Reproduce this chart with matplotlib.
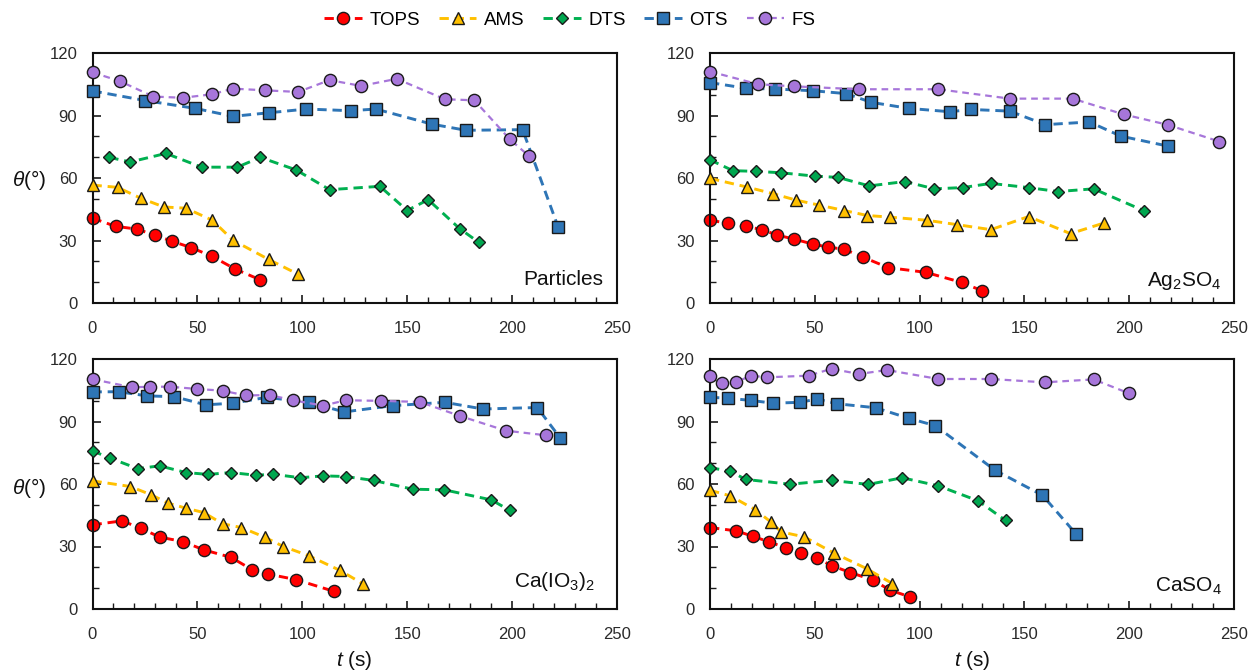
import matplotlib
matplotlib.use("Agg")
import matplotlib.pyplot as plt
from matplotlib.ticker import MultipleLocator
from matplotlib.lines import Line2D

plt.rcParams['font.family'] = ['Liberation Sans', 'DejaVu Sans']
plt.rcParams['mathtext.fontset'] = 'custom'
plt.rcParams['mathtext.rm'] = 'Liberation Sans'
plt.rcParams['mathtext.it'] = 'Liberation Sans:italic'

# ---------------- data ----------------
series_names = ["TOPS", "AMS", "DTS", "OTS", "FS"]
panel_titles = ["Particles", "Ag$_2$SO$_4$", "Ca(IO$_3$)$_2$", "CaSO$_4$"]
x_ticks = [0, 50, 100, 150, 200, 250]
y_ticks = [0, 30, 60, 90, 120]

# Particles
p1_tops_t = [0, 11, 21, 30, 38, 47, 57, 68, 80]
p1_tops_y = [40.7, 36.8, 35.5, 32.5, 29.6, 26.6, 22.4, 16.3, 11.1]
p1_ams_t = [0, 12, 23, 34, 44.5, 57, 67, 84, 98]
p1_ams_y = [56.6, 55.5, 50.3, 46.1, 45.5, 39.8, 30.1, 20.9, 13.8]
p1_dts_t = [8, 18, 35, 52, 69, 80, 97, 113, 137, 150, 160, 175, 184]
p1_dts_y = [69.9, 67.7, 71.8, 65.2, 65.2, 69.9, 63.9, 54.4, 56.0, 44.4, 49.6, 35.7, 29.2]
p1_ots_t = [0, 25, 49, 67, 84, 102, 123, 135, 162, 178, 205, 222]
p1_ots_y = [101.8, 97.2, 93.4, 89.6, 91.3, 93.1, 92.3, 93.1, 85.8, 82.9, 83.2, 36.3]
p1_fs_t = [0, 13, 29, 43, 57, 67, 82, 98, 113, 128, 145, 168, 182, 199, 208]
p1_fs_y = [110.7, 106.5, 99.1, 98.5, 100.2, 102.9, 102.1, 101.3, 107.0, 104.2, 107.6, 97.8, 97.3, 78.5, 70.6]

# Ag2SO4
p2_tops_t = [0, 8.6, 17, 25, 32, 40, 49, 56.5, 64, 73, 85, 103, 120, 130]
p2_tops_y = [39.7, 38.3, 36.8, 35.2, 32.6, 30.7, 28.3, 26.8, 25.8, 22.0, 17.0, 14.7, 9.9, 5.8]
p2_ams_t = [0, 17.5, 30, 41, 52, 64, 75, 86, 103.5, 118, 134, 152, 172, 188]
p2_ams_y = [59.8, 55.7, 52.5, 49.4, 47.0, 44.4, 42.0, 41.2, 39.7, 37.6, 35.2, 41.5, 33.3, 38.4]
p2_dts_t = [0, 11, 22, 34, 50, 61, 76, 93, 107, 120.5, 134, 152, 166, 183, 207]
p2_dts_y = [68.7, 63.5, 63.2, 62.5, 60.9, 60.3, 56.2, 58.3, 54.8, 55.4, 57.4, 55.4, 53.5, 54.8, 44.3]
p2_ots_t = [0, 17, 31, 49, 65, 77, 95, 114.5, 124.5, 143, 160, 181, 196, 218.5]
p2_ots_y = [105.8, 103.1, 102.7, 101.9, 100.5, 96.3, 93.4, 91.8, 92.9, 92.1, 85.6, 86.9, 80.1, 75.3]
p2_fs_t = [0, 23, 40, 71, 109, 143, 173, 197.5, 218.5, 243]
p2_fs_y = [111.1, 105.0, 104.0, 102.6, 102.6, 98.1, 98.1, 90.5, 85.5, 77.5]

# Ca(IO3)2
p3_tops_t = [0, 14, 23, 32, 43, 53, 66, 76, 83.5, 97, 115]
p3_tops_y = [40.4, 42.3, 38.8, 34.5, 32.4, 28.4, 24.8, 18.9, 16.8, 14.1, 8.5]
p3_ams_t = [0, 18, 28, 36, 44.5, 53, 62, 71, 82, 91, 103, 118, 129]
p3_ams_y = [61.5, 58.8, 54.8, 50.8, 48.4, 46.3, 40.9, 39.1, 34.5, 30.0, 25.6, 18.5, 12.0]
p3_dts_t = [0, 8.4, 21.5, 32, 44.6, 55, 66, 78, 86, 99, 110, 120.6, 134, 152.6, 167.7, 190, 199]
p3_dts_y = [75.9, 72.4, 67.4, 68.7, 65.5, 64.6, 65.5, 64.2, 64.7, 63.0, 63.9, 63.6, 61.7, 57.5, 57.2, 52.4, 47.3]
p3_ots_t = [0, 12.4, 26, 39, 54, 67, 83, 103, 120, 143, 168, 186, 212, 223]
p3_ots_y = [104.2, 104.3, 102.3, 101.9, 98.0, 98.8, 101.6, 99.2, 94.6, 97.6, 99.2, 96.0, 96.7, 82.0]
p3_fs_t = [0, 19, 27.5, 37, 50, 62, 73, 84.5, 95.5, 110, 120.6, 137.6, 156, 175, 197, 216]
p3_fs_y = [110.3, 106.4, 106.7, 106.7, 105.6, 104.8, 102.5, 102.7, 100.2, 97.6, 100.2, 99.9, 99.4, 92.7, 85.6, 83.4]

# CaSO4
p4_tops_t = [0, 12.6, 20.4, 28.3, 36.3, 43.5, 51, 58, 67, 78, 85.7, 95.5]
p4_tops_y = [39.1, 37.5, 34.9, 32.2, 29.3, 27.1, 24.4, 20.8, 17.5, 13.8, 9.1, 5.8]
p4_ams_t = [0, 9.7, 21.5, 29, 34, 45, 59, 74.7, 87]
p4_ams_y = [57.0, 54.3, 47.7, 41.8, 37.0, 34.6, 26.9, 19.4, 12.2]
p4_dts_t = [0, 9.6, 17, 38, 58, 75.6, 91.7, 109, 128, 141]
p4_dts_y = [67.8, 66.2, 62.2, 59.9, 61.7, 59.8, 63.0, 59.1, 51.9, 42.5]
p4_ots_t = [0, 8.4, 19.7, 30, 43, 51, 60.7, 79, 95, 107.5, 136, 158.6, 174.5]
p4_ots_y = [101.6, 101.2, 100.1, 98.8, 99.2, 100.8, 98.5, 96.6, 91.5, 88.0, 66.6, 54.6, 36.2]
p4_fs_t = [0, 5.6, 12.4, 19.6, 27, 47, 58, 71, 84.4, 109, 134, 159.6, 183, 200]
p4_fs_y = [111.8, 108.6, 108.9, 112.0, 111.2, 112.0, 115.3, 112.8, 114.7, 110.4, 110.4, 108.8, 110.2, 103.5]

panels = [
    [(p1_tops_t, p1_tops_y), (p1_ams_t, p1_ams_y), (p1_dts_t, p1_dts_y), (p1_ots_t, p1_ots_y), (p1_fs_t, p1_fs_y)],
    [(p2_tops_t, p2_tops_y), (p2_ams_t, p2_ams_y), (p2_dts_t, p2_dts_y), (p2_ots_t, p2_ots_y), (p2_fs_t, p2_fs_y)],
    [(p3_tops_t, p3_tops_y), (p3_ams_t, p3_ams_y), (p3_dts_t, p3_dts_y), (p3_ots_t, p3_ots_y), (p3_fs_t, p3_fs_y)],
    [(p4_tops_t, p4_tops_y), (p4_ams_t, p4_ams_y), (p4_dts_t, p4_dts_y), (p4_ots_t, p4_ots_y), (p4_fs_t, p4_fs_y)],
]

# ---------------- styles ----------------
line_colors = ["#FF0000", "#FFC000", "#00B050", "#2E75B6", "#A776DA"]
face_colors = ["#FF0000", "#FFC000", "#00A64F", "#2E75B6", "#A776DA"]
markers = ["o", "^", "D", "s", "o"]
msizes = [8.8, 9.0, 6.3, 8.3, 8.8]
lws = [2.1, 2.1, 2.1, 2.1, 1.6]
dashes = [(3.2, 2), (3.2, 2), (3.2, 2), (3.2, 2), (3, 2.2)]

W, H = 1252, 672
fig = plt.figure(figsize=(W / 100, H / 100), dpi=100)

boxes = [
    (92.5, 53, 617, 303),
    (710, 53, 1234, 303),
    (92.5, 359, 617, 609),
    (710, 359, 1234, 609),
]
title_pos = [(0.973, 0.072), (0.977, 0.068), (0.958, 0.088), (0.977, 0.068)]

for i, (l, t, r, b) in enumerate(boxes):
    ax = fig.add_axes([l / W, 1 - b / H, (r - l) / W, (b - t) / H])
    for k in range(5):
        tt, yy = panels[i][k]
        ax.plot(tt, yy, color=line_colors[k], lw=lws[k], dashes=dashes[k],
                marker=markers[k], ms=msizes[k], mfc=face_colors[k],
                mec="#1a1a1a", mew=1.0, zorder=2 + k, clip_on=False)
    ax.set_xlim(0, 250)
    ax.set_ylim(0, 120)
    ax.set_xticks(x_ticks)
    ax.set_yticks(y_ticks)
    ax.xaxis.set_minor_locator(MultipleLocator(10))
    ax.yaxis.set_minor_locator(MultipleLocator(10))
    ax.tick_params(which="major", direction="in", length=6, width=1.2,
                   labelsize=12, pad=11, colors="#1a1a1a", labelcolor="#2a2a2a")
    ax.tick_params(axis="x", which="major", pad=13)
    ax.tick_params(which="minor", direction="in", length=4, width=1.0, colors="#1a1a1a")
    for s in ax.spines.values():
        s.set_linewidth(1.5)
        s.set_color("#111111")
    ax.text(title_pos[i][0], title_pos[i][1], panel_titles[i], transform=ax.transAxes,
            ha="right", va="baseline", fontsize=15, color="#111111")

# y labels
for yc in [180, 488]:
    fig.text(29 / W, 1 - yc / H, r"$\mathit{θ}$(°)", ha="center", va="center",
             fontsize=15, color="#111111")
# x labels
for xc in [354.75, 972]:
    fig.text(xc / W, 1 - 660 / H, r"$\mathit{t}$ (s)", ha="center", va="center",
             fontsize=15, color="#111111")

handles = [Line2D([0], [0], color=line_colors[k], lw=lws[k], dashes=dashes[k],
                  marker=markers[k], ms=msizes[k], mfc=face_colors[k],
                  mec="#1a1a1a", mew=1.0) for k in range(5)]
fig.legend(handles, series_names, loc="center", bbox_to_anchor=(570 / W, 1 - 20 / H),
           ncol=5, frameon=False, fontsize=13.5, handlelength=2.0, columnspacing=1.0,
           handletextpad=0.4)

fig.savefig("out.png", dpi=100)
